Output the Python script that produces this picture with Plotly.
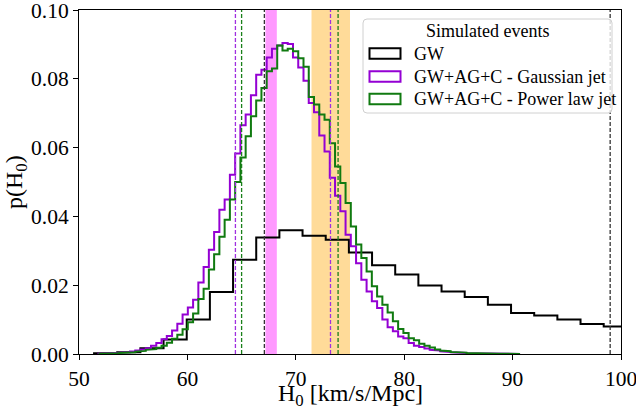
import numpy as np
import plotly.graph_objects as go

# ---------------- data ----------------
# GW-only histogram (coarse bins)
GW_BIN_START = 51.39
GW_BIN_WIDTH = 2.137
GW_VALUES = [0.0002, 0.0005, 0.0017, 0.0042, 0.0100, 0.0180, 0.0274, 0.0339,
             0.0360, 0.0344, 0.0332, 0.0295, 0.0258, 0.0231, 0.0199, 0.0182,
             0.0166, 0.0143, 0.0119, 0.0112, 0.0100, 0.0087, 0.0080]

# GW+AG+C histograms (fine bins)
EM_BIN_START = 51.795
EM_BIN_WIDTH = 0.485
GAUSS_VALUES = [0.0001, 0.0001, 0.0002, 0.0003, 0.0004, 0.0005, 0.0007, 0.0010,
                0.0013, 0.0017, 0.0024, 0.0032, 0.0043, 0.0052, 0.0068, 0.0088,
                0.0115, 0.0135, 0.0158, 0.0208, 0.0253, 0.0303, 0.0355, 0.0419,
                0.0449, 0.0521, 0.0583, 0.0665, 0.0696, 0.0752, 0.0812, 0.0826,
                0.0862, 0.0887, 0.0897, 0.0904, 0.0901, 0.0862, 0.0833, 0.0794,
                0.0730, 0.0703, 0.0635, 0.0589, 0.0512, 0.0460, 0.0415, 0.0347,
                0.0313, 0.0264, 0.0216, 0.0182, 0.0153, 0.0134, 0.0100, 0.0078,
                0.0066, 0.0051, 0.0046, 0.0032, 0.0024, 0.0020, 0.0016, 0.0012,
                0.0010, 0.0008, 0.0006, 0.0005, 0.0004, 0.0003, 0.0002, 0.0002,
                0.0001, 0.0001, 0.0001, 0.0001, 0.00005, 0.00005, 0.00003, 0.00003]
POWER_VALUES = [0.0000, 0.0001, 0.0001, 0.0002, 0.0003, 0.0004, 0.0005, 0.0007,
                0.0009, 0.0012, 0.0014, 0.0018, 0.0024, 0.0033, 0.0044, 0.0056,
                0.0072, 0.0092, 0.0118, 0.0160, 0.0190, 0.0246, 0.0290, 0.0341,
                0.0390, 0.0449, 0.0500, 0.0571, 0.0633, 0.0691, 0.0737, 0.0773,
                0.0822, 0.0830, 0.0897, 0.0882, 0.0887, 0.0880, 0.0860, 0.0835,
                0.0747, 0.0725, 0.0696, 0.0681, 0.0613, 0.0545, 0.0497, 0.0439,
                0.0371, 0.0318, 0.0279, 0.0240, 0.0197, 0.0167, 0.0143, 0.0121,
                0.0095, 0.0073, 0.0061, 0.0046, 0.0040, 0.0030, 0.0024, 0.0019,
                0.0013, 0.0010, 0.0008, 0.0006, 0.0005, 0.0004, 0.0003, 0.0002,
                0.0002, 0.0001, 0.0001, 0.0001, 0.00005, 0.00005, 0.00003, 0.00003]

# reference bands and dashed lines
PINK_BAND = [67.2, 68.25]
ORANGE_BAND = [71.45, 75.0]
GAUSS_LINES = [64.43, 73.2]
POWER_LINES = [65.0, 73.9]
GW_LINES = [67.1, 99.0]

X_TICKS = [50, 60, 70, 80, 90, 100]
Y_TICKS = [0.00, 0.02, 0.04, 0.06, 0.08, 0.10]
LEGEND_TITLE = "Simulated events"
LEGEND_LABELS = ["GW", "GW+AG+C - Gaussian jet", "GW+AG+C - Power law jet"]

# ---------------- style ----------------
C_GW = "black"
C_GAUSS = "#9400d3"
C_POWER = "#107a10"
FONT = "Liberation Serif"

W, H = 636, 413
ML, MR, MT, MB = 79, 15, 10, 59


def step_xy(start, width, vals):
    edges = start + width * np.arange(len(vals) + 1)
    xs = [edges[0]]
    ys = [0.0]
    for i, v in enumerate(vals):
        xs += [edges[i], edges[i + 1]]
        ys += [v, v]
    xs.append(edges[-1])
    ys.append(0.0)
    return xs, ys


fig = go.Figure()
for start, width, vals, col in [
    (GW_BIN_START, GW_BIN_WIDTH, GW_VALUES, C_GW),
    (EM_BIN_START, EM_BIN_WIDTH, GAUSS_VALUES, C_GAUSS),
    (EM_BIN_START, EM_BIN_WIDTH, POWER_VALUES, C_POWER),
]:
    xs, ys = step_xy(start, width, vals)
    fig.add_trace(go.Scatter(x=xs, y=ys, mode="lines",
                             line=dict(color=col, width=2),
                             showlegend=False, hoverinfo="skip", cliponaxis=True))

shapes = []
shapes.append(dict(type="rect", xref="x", yref="paper", x0=PINK_BAND[0], x1=PINK_BAND[1],
                   y0=0, y1=1, fillcolor="rgba(255,0,255,0.4)", line=dict(width=0), layer="below"))
shapes.append(dict(type="rect", xref="x", yref="paper", x0=ORANGE_BAND[0], x1=ORANGE_BAND[1],
                   y0=0, y1=1, fillcolor="rgba(255,165,0,0.4)", line=dict(width=0), layer="below"))
for xs_, col in [(GAUSS_LINES, "#a030e0"), (POWER_LINES, "#1a801a"), (GW_LINES, "#333333")]:
    for xv in xs_:
        shapes.append(dict(type="line", xref="x", yref="paper", x0=xv, x1=xv, y0=0, y1=1,
                           line=dict(color=col, width=1.3, dash="4px,2px")))

# manual legend (pixel geometry converted to paper coords)
PW = W - ML - MR
PH = H - MT - MB


def px(xp):
    return (xp - ML) / PW


def py(yp):
    return (H - MB - yp) / PH


lx0, lx1, ly0, ly1 = 363, 612, 19, 113
r = 4
rx, ry = r / PW, r / PH
X0, X1, Y0, Y1 = px(lx0), px(lx1), py(ly1), py(ly0)
path = (f"M{X0+rx},{Y0} L{X1-rx},{Y0} Q{X1},{Y0} {X1},{Y0+ry} "
        f"L{X1},{Y1-ry} Q{X1},{Y1} {X1-rx},{Y1} L{X0+rx},{Y1} Q{X0},{Y1} {X0},{Y1-ry} "
        f"L{X0},{Y0+ry} Q{X0},{Y0} {X0+rx},{Y0} Z")
shapes.append(dict(type="path", xref="paper", yref="paper", path=path,
                   fillcolor="rgba(255,255,255,0.8)", line=dict(color="#d0d0d0", width=1),
                   layer="above"))

annotations = []
annotations.append(dict(text=LEGEND_TITLE, xref="paper", yref="paper",
                        x=px((lx0 + lx1) / 2), y=py(31), xanchor="center", yanchor="middle",
                        showarrow=False, font=dict(family=FONT, size=18, color="black")))
rows = [53.5, 76.5, 99]
for lab, col, yc in zip(LEGEND_LABELS, [C_GW, C_GAUSS, C_POWER], rows):
    shapes.append(dict(type="rect", xref="paper", yref="paper",
                       x0=px(369.5), x1=px(400.5), y0=py(yc + 5.3), y1=py(yc - 5.3),
                       fillcolor="rgba(255,255,255,0)", line=dict(color=col, width=2),
                       layer="above"))
    annotations.append(dict(text=lab, xref="paper", yref="paper", x=px(412), y=py(yc),
                            xanchor="left", yanchor="middle", showarrow=False,
                            font=dict(family=FONT, size=18, color="black")))

# axis titles as annotations (fixed placement like the reference)
annotations.append(dict(text="H<sub>0</sub> [km/s/Mpc]", xref="paper", yref="paper",
                        x=0.5, y=py(395), xanchor="center", yanchor="middle", showarrow=False,
                        font=dict(family=FONT, size=24, color="black")))
annotations.append(dict(text="p(H<sub>0</sub>)", xref="paper", yref="paper",
                        x=px(16), y=0.5, xanchor="center", yanchor="middle", showarrow=False,
                        textangle=-90, font=dict(family=FONT, size=24, color="black")))

fig.update_layout(
    width=W, height=H,
    margin=dict(l=ML, r=MR, t=MT, b=MB, autoexpand=False),
    paper_bgcolor="white", plot_bgcolor="white",
    font=dict(family=FONT, size=21.5, color="black"),
    shapes=shapes, annotations=annotations,
    showlegend=False,
)
fig.update_xaxes(range=[50, 100], tickvals=X_TICKS, ticktext=[str(t) for t in X_TICKS],
                 showgrid=False, zeroline=False, showline=True, linecolor="black", linewidth=1,
                 mirror=True, ticks="outside", ticklen=5, tickcolor="black", automargin=False,
                 ticklabeloverflow="allow")
fig.update_yaxes(range=[0, 0.1], tickvals=Y_TICKS, ticktext=[f"{t:.2f}" for t in Y_TICKS],
                 showgrid=False, zeroline=False, showline=True, linecolor="black", linewidth=1,
                 mirror=True, ticks="outside", ticklen=5, tickcolor="black", automargin=False,
                 ticklabeloverflow="allow")

fig.write_html("out.html", config={"displayModeBar": False},
               post_script="document.body.style.margin='0px';")
